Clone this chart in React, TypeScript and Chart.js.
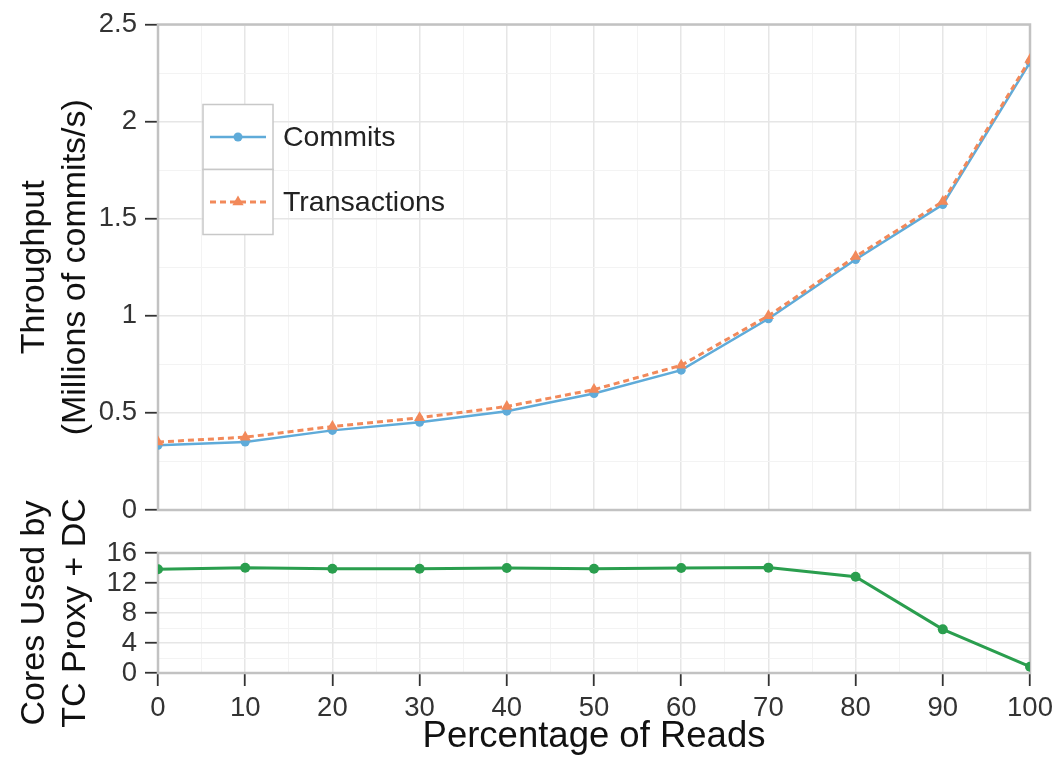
import React, { useEffect, useRef } from "react";
import { Chart, registerables } from "chart.js";

Chart.register(...registerables);

// ---------- data ----------
const readPercentages = [0, 10, 20, 30, 40, 50, 60, 70, 80, 90, 100];
const commitsThroughput = [0.333, 0.35, 0.41, 0.452, 0.509, 0.6, 0.72, 0.985, 1.29, 1.573, 2.305];
const transactionsThroughput = [0.35, 0.375, 0.43, 0.475, 0.533, 0.62, 0.745, 1.0, 1.305, 1.588, 2.32];
const coresUsed = [13.83, 14.04, 13.9, 13.9, 14.0, 13.9, 14.0, 14.05, 12.84, 5.82, 0.84];

const xTickLabels = ["0", "10", "20", "30", "40", "50", "60", "70", "80", "90", "100"];
const throughputTickLabels = ["0", "0.5", "1", "1.5", "2", "2.5"];
const coresTickLabels = ["0", "4", "8", "12", "16"];

const seriesNames = ["Commits", "Transactions"];
const coresName = "Cores Used";

// ---------- styles ----------
const FONT = "'Liberation Sans', Arial, Helvetica, sans-serif";
const BLUE = "#5fabd9";
const ORANGE = "#f2895a";
const GREEN = "#2a9e4e";
const TICK_COLOR = "#333333";
const TITLE_COLOR = "#111111";

const isMajorOf = (labels: string[]) => (v: any) =>
  v !== undefined && labels.some((l) => Math.abs(parseFloat(l) - v) < 1e-6);

const isMajorX = isMajorOf(xTickLabels);
const isMajorThroughput = isMajorOf(throughputTickLabels);
const isMajorCores = isMajorOf(coresTickLabels);

function gridOpts(isMajor: (v: any) => boolean, drawTicks: boolean) {
  return {
    color: (c: any) => (isMajor(c.tick?.value) ? "#e6e6e6" : "#f3f3f3"),
    lineWidth: (c: any) => (isMajor(c.tick?.value) ? 1.5 : 1),
    drawTicks,
    tickLength: 13,
    tickColor: (c: any) => (isMajor(c.tick?.value) ? "#333333" : "rgba(0,0,0,0)"),
    tickWidth: 1.8,
  };
}

const framePlugin = {
  id: "frame",
  beforeDatasetsDraw(chart: any) {
    const { ctx, chartArea: a } = chart;
    ctx.save();
    ctx.strokeStyle = "#c2c2c2";
    ctx.lineWidth = 2.5;
    ctx.strokeRect(a.left, a.top, a.right - a.left, a.bottom - a.top);
    ctx.restore();
  },
};

const boxLegendPlugin = {
  id: "boxLegend",
  afterDatasetsDraw(chart: any) {
    const { ctx, chartArea: a } = chart;
    const x0 = a.left + 45;
    const y0 = a.top + 80;
    const w = 70;
    const rowH = 65;
    chart.data.datasets.forEach((ds: any, i: number) => {
      const top = y0 + i * rowH;
      const cy = top + rowH / 2;
      ctx.save();
      ctx.fillStyle = "#ffffff";
      ctx.fillRect(x0, top, w, rowH);
      ctx.strokeStyle = "#c8c8c8";
      ctx.lineWidth = 1.5;
      ctx.strokeRect(x0, top, w, rowH);
      // line sample
      ctx.strokeStyle = ds.borderColor;
      ctx.lineWidth = ds.borderWidth;
      ctx.setLineDash(ds.borderDash || []);
      ctx.beginPath();
      ctx.moveTo(x0 + 7, cy);
      ctx.lineTo(x0 + w - 7, cy);
      ctx.stroke();
      ctx.setLineDash([]);
      // marker
      const cx = x0 + w / 2;
      ctx.fillStyle = ds.pointBackgroundColor;
      ctx.beginPath();
      if (ds.pointStyle === "triangle") {
        const r = ds.pointRadius;
        for (let k = 0; k < 3; k++) {
          const ang = (k * 2 * Math.PI) / 3;
          const px = cx + Math.sin(ang) * r;
          const py = cy - Math.cos(ang) * r;
          if (k === 0) ctx.moveTo(px, py);
          else ctx.lineTo(px, py);
        }
        ctx.closePath();
      } else {
        ctx.arc(cx, cy, ds.pointRadius, 0, Math.PI * 2);
      }
      ctx.fill();
      // text
      ctx.fillStyle = "#222222";
      ctx.font = `28.5px ${FONT}`;
      ctx.textAlign = "left";
      ctx.textBaseline = "middle";
      ctx.fillText(ds.label, x0 + w + 10, cy + 1);
      ctx.restore();
    });
  },
};

export default function App() {
  const topRef = useRef<HTMLCanvasElement | null>(null);
  const bottomRef = useRef<HTMLCanvasElement | null>(null);

  useEffect(() => {
    const top = new Chart(topRef.current as HTMLCanvasElement, {
      type: "line",
      data: {
        datasets: [
          {
            label: seriesNames[0],
            data: readPercentages.map((x, i) => ({ x, y: commitsThroughput[i] })),
            borderColor: BLUE,
            backgroundColor: BLUE,
            pointBackgroundColor: BLUE,
            borderWidth: 2.5,
            pointRadius: 4.5,
            pointBorderWidth: 0,
            pointStyle: "circle",
            clip: 0,
            order: 1,
          } as any,
          {
            label: seriesNames[1],
            data: readPercentages.map((x, i) => ({ x, y: transactionsThroughput[i] })),
            borderColor: ORANGE,
            backgroundColor: ORANGE,
            pointBackgroundColor: ORANGE,
            borderWidth: 3,
            borderDash: [6, 4],
            pointRadius: 6.5,
            pointBorderWidth: 0,
            pointStyle: "triangle",
            clip: 0,
            order: 0,
          } as any,
        ],
      },
      options: {
        animation: false,
        responsive: false,
        devicePixelRatio: 1,
        layout: { padding: { top: 22, right: 31, left: 0, bottom: 0 } },
        plugins: { legend: { display: false }, tooltip: { enabled: false } },
        scales: {
          x: {
            type: "linear",
            min: 0,
            max: 100,
            border: { display: false },
            ticks: { display: false, stepSize: 5, autoSkip: false },
            grid: gridOpts(isMajorX, false) as any,
            afterFit: (s: any) => {
              s.height = 25;
            },
          },
          y: {
            type: "linear",
            min: 0,
            max: 2.5,
            border: { display: false },
            ticks: {
              stepSize: 0.25,
              autoSkip: false,
              padding: 8,
              color: TICK_COLOR,
              font: { family: FONT, size: 27.5 },
              callback: (v: any) => (isMajorThroughput(v) ? String(Number(v)) : ""),
            },
            grid: gridOpts(isMajorThroughput, true) as any,
            title: {
              display: true,
              text: ["Throughput", "(Millions of commits/s)"],
              color: TITLE_COLOR,
              font: { family: FONT, size: 34, lineHeight: 1.2 },
              padding: { top: 14, bottom: 0 },
            },
            afterFit: (s: any) => {
              s.width = 158;
            },
          },
        },
      } as any,
      plugins: [framePlugin, boxLegendPlugin],
    });

    const bottom = new Chart(bottomRef.current as HTMLCanvasElement, {
      type: "line",
      data: {
        datasets: [
          {
            label: coresName,
            data: readPercentages.map((x, i) => ({ x, y: coresUsed[i] })),
            borderColor: GREEN,
            backgroundColor: GREEN,
            pointBackgroundColor: GREEN,
            borderWidth: 3,
            pointRadius: 5,
            pointBorderWidth: 0,
            clip: 0,
          } as any,
        ],
      },
      options: {
        animation: false,
        responsive: false,
        devicePixelRatio: 1,
        layout: { padding: { top: 83, right: 31, left: 0, bottom: 0 } },
        plugins: { legend: { display: false }, tooltip: { enabled: false } },
        scales: {
          x: {
            type: "linear",
            min: 0,
            max: 100,
            border: { display: false },
            ticks: {
              stepSize: 5,
              autoSkip: false,
              maxRotation: 0,
              padding: 6,
              color: TICK_COLOR,
              font: { family: FONT, size: 27.5 },
              callback: (v: any) => (isMajorX(v) ? String(Number(v)) : ""),
            },
            grid: gridOpts(isMajorX, true) as any,
            title: {
              display: true,
              text: "Percentage of Reads",
              color: TITLE_COLOR,
              font: { family: FONT, size: 36.5, lineHeight: 1.1 },
              padding: { top: 0, bottom: 0 },
            },
            afterFit: (s: any) => {
              s.height = 84;
            },
          },
          y: {
            type: "linear",
            min: 0,
            max: 16,
            border: { display: false },
            ticks: {
              stepSize: 2,
              autoSkip: false,
              padding: 8,
              color: TICK_COLOR,
              font: { family: FONT, size: 27.5 },
              callback: (v: any) => (isMajorCores(v) ? String(Number(v)) : ""),
            },
            grid: gridOpts(isMajorCores, true) as any,
            title: {
              display: true,
              text: ["Cores Used by", "TC Proxy + DC"],
              color: TITLE_COLOR,
              font: { family: FONT, size: 34, lineHeight: 1.2 },
              padding: { top: 14, bottom: 0 },
            },
            afterFit: (s: any) => {
              s.width = 158;
            },
          },
        },
      } as any,
      plugins: [framePlugin],
    });

    return () => {
      top.destroy();
      bottom.destroy();
    };
  }, []);

  return (
    <div style={{ position: "absolute", left: 0, top: 0, width: 1061, height: 757, background: "#ffffff" }}>
      <canvas
        ref={topRef}
        width={1061}
        height={535}
        style={{ position: "absolute", left: 0, top: 0, width: 1061, height: 535, display: "block" }}
      />
      <canvas
        ref={bottomRef}
        width={1061}
        height={287}
        style={{ position: "absolute", left: 0, top: 470, width: 1061, height: 287, display: "block" }}
      />
    </div>
  );
}
